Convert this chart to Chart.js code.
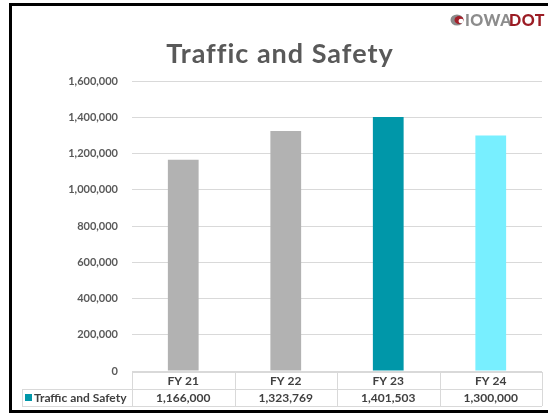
<!DOCTYPE html>
<html>
<head>
<meta charset="utf-8">
<title>Traffic and Safety</title>
<script src="https://cdn.jsdelivr.net/npm/chart.js@4"></script>
<style>
    html, body { margin: 0; padding: 0; background: #fff; }
    canvas { display: block; }
</style>
</head>
<body>
<canvas id="chart" width="548" height="414"></canvas>
<script>
// Traffic and Safety funding by fiscal year (Iowa DOT)
const categories = ['FY 21', 'FY 22', 'FY 23', 'FY 24'];
const values = [1166000, 1323769, 1401503, 1300000];
const barColors = ['#b2b2b2', '#b2b2b2', '#0097a9', '#78efff'];
const seriesName = 'Traffic and Safety';
const yMax = 1600000;
const yStep = 200000;

const textGrey = '#595959';
const gridGrey = '#d9d9d9';

// draws title, logo, frame and the data table under the plot
const decor = {
    id: 'decor',
    afterDraw(chart) {
        const ctx = chart.ctx;
        const x = chart.scales.x;
        ctx.save();

        // title
        ctx.fillStyle = textGrey;
        ctx.font = 'bold 27px Lato';
        ctx.letterSpacing = '1px';
        ctx.textAlign = 'center';
        ctx.textBaseline = 'alphabetic';
        ctx.fillText(seriesName, 280, 63);

        // logo
        ctx.fillStyle = '#8a8a8a';
        ctx.beginPath();
        ctx.ellipse(457, 20, 6.5, 5.5, 0, 0, Math.PI * 2);
        ctx.fill();
        ctx.fillStyle = '#a31f2a';
        ctx.beginPath();
        ctx.ellipse(459, 20, 4.5, 4, 0, 0, Math.PI * 2);
        ctx.fill();
        ctx.fillStyle = '#fff';
        ctx.beginPath();
        ctx.ellipse(461, 21, 2.5, 2.2, 0, 0, Math.PI * 2);
        ctx.fill();
        ctx.font = '900 16px Lato';
        ctx.letterSpacing = '0.5px';
        ctx.textAlign = 'left';
        ctx.textBaseline = 'middle';
        ctx.fillStyle = '#8c8c8c';
        ctx.fillText('IOWA', 465, 21);
        ctx.fillStyle = '#9b1c24';
        ctx.fillText('DOT', 509, 21);
        ctx.letterSpacing = '0px';

        // data table
        const top = 372, mid = 389, bottom = 406;
        const colW = (x.right - x.left) / categories.length;
        ctx.strokeStyle = gridGrey;
        ctx.lineWidth = 1;
        ctx.beginPath();
        ctx.moveTo(x.left, top + 0.5); ctx.lineTo(x.right, top + 0.5);
        ctx.moveTo(22, mid + 0.5); ctx.lineTo(x.right, mid + 0.5);
        ctx.moveTo(22, bottom + 0.5); ctx.lineTo(x.right, bottom + 0.5);
        ctx.moveTo(22.5, mid); ctx.lineTo(22.5, bottom);
        for (let i = 0; i <= categories.length; i++) {
            const px = Math.round(x.left + i * colW) + 0.5;
            ctx.moveTo(px, top); ctx.lineTo(px, bottom);
        }
        ctx.stroke();

        ctx.font = 'bold 12px Lato';
        ctx.textAlign = 'center';
        ctx.textBaseline = 'middle';
        ctx.fillStyle = '#404040';
        categories.forEach((c, i) => {
            const cx = x.getPixelForValue(i);
            ctx.fillText(c, cx, (top + mid) / 2 + 1);
            ctx.fillText(values[i].toLocaleString('en-US'), cx, (mid + bottom) / 2 + 1);
        });

        // legend key in the table
        ctx.fillStyle = '#0097a9';
        ctx.fillRect(25, 394, 7, 7);
        ctx.fillStyle = '#404040';
        ctx.textAlign = 'left';
        ctx.fillText(seriesName, 34, (mid + bottom) / 2 + 1);

        // frame
        ctx.strokeStyle = '#000';
        ctx.lineWidth = 3;
        ctx.beginPath();
        ctx.moveTo(548, 4.5);
        ctx.lineTo(10.5, 4.5);
        ctx.lineTo(10.5, 411.5);
        ctx.lineTo(548, 411.5);
        ctx.stroke();

        ctx.restore();
    }
};

new Chart(document.getElementById('chart').getContext('2d'), {
    type: 'bar',
    data: {
        labels: categories,
        datasets: [{
            label: seriesName,
            data: values,
            backgroundColor: barColors,
            borderWidth: 0,
            categoryPercentage: 1,
            barPercentage: 0.3
        }]
    },
    options: {
        responsive: false,
        animation: false,
        layout: {
            padding: { left: 0, top: 81, right: 6, bottom: 43 }
        },
        plugins: {
            legend: { display: false },
            title: { display: false },
            tooltip: { enabled: false }
        },
        scales: {
            x: {
                display: false
            },
            y: {
                min: 0,
                max: yMax,
                afterFit(axis) { axis.width = 132; },
                border: { display: false },
                grid: { color: gridGrey, drawTicks: false },
                ticks: {
                    stepSize: yStep,
                    padding: 14,
                    color: textGrey,
                    font: { family: 'Lato', size: 11, weight: 'bold' },
                    callback: v => v.toLocaleString('en-US')
                }
            }
        }
    },
    plugins: [decor]
});
</script>
</body>
</html>
